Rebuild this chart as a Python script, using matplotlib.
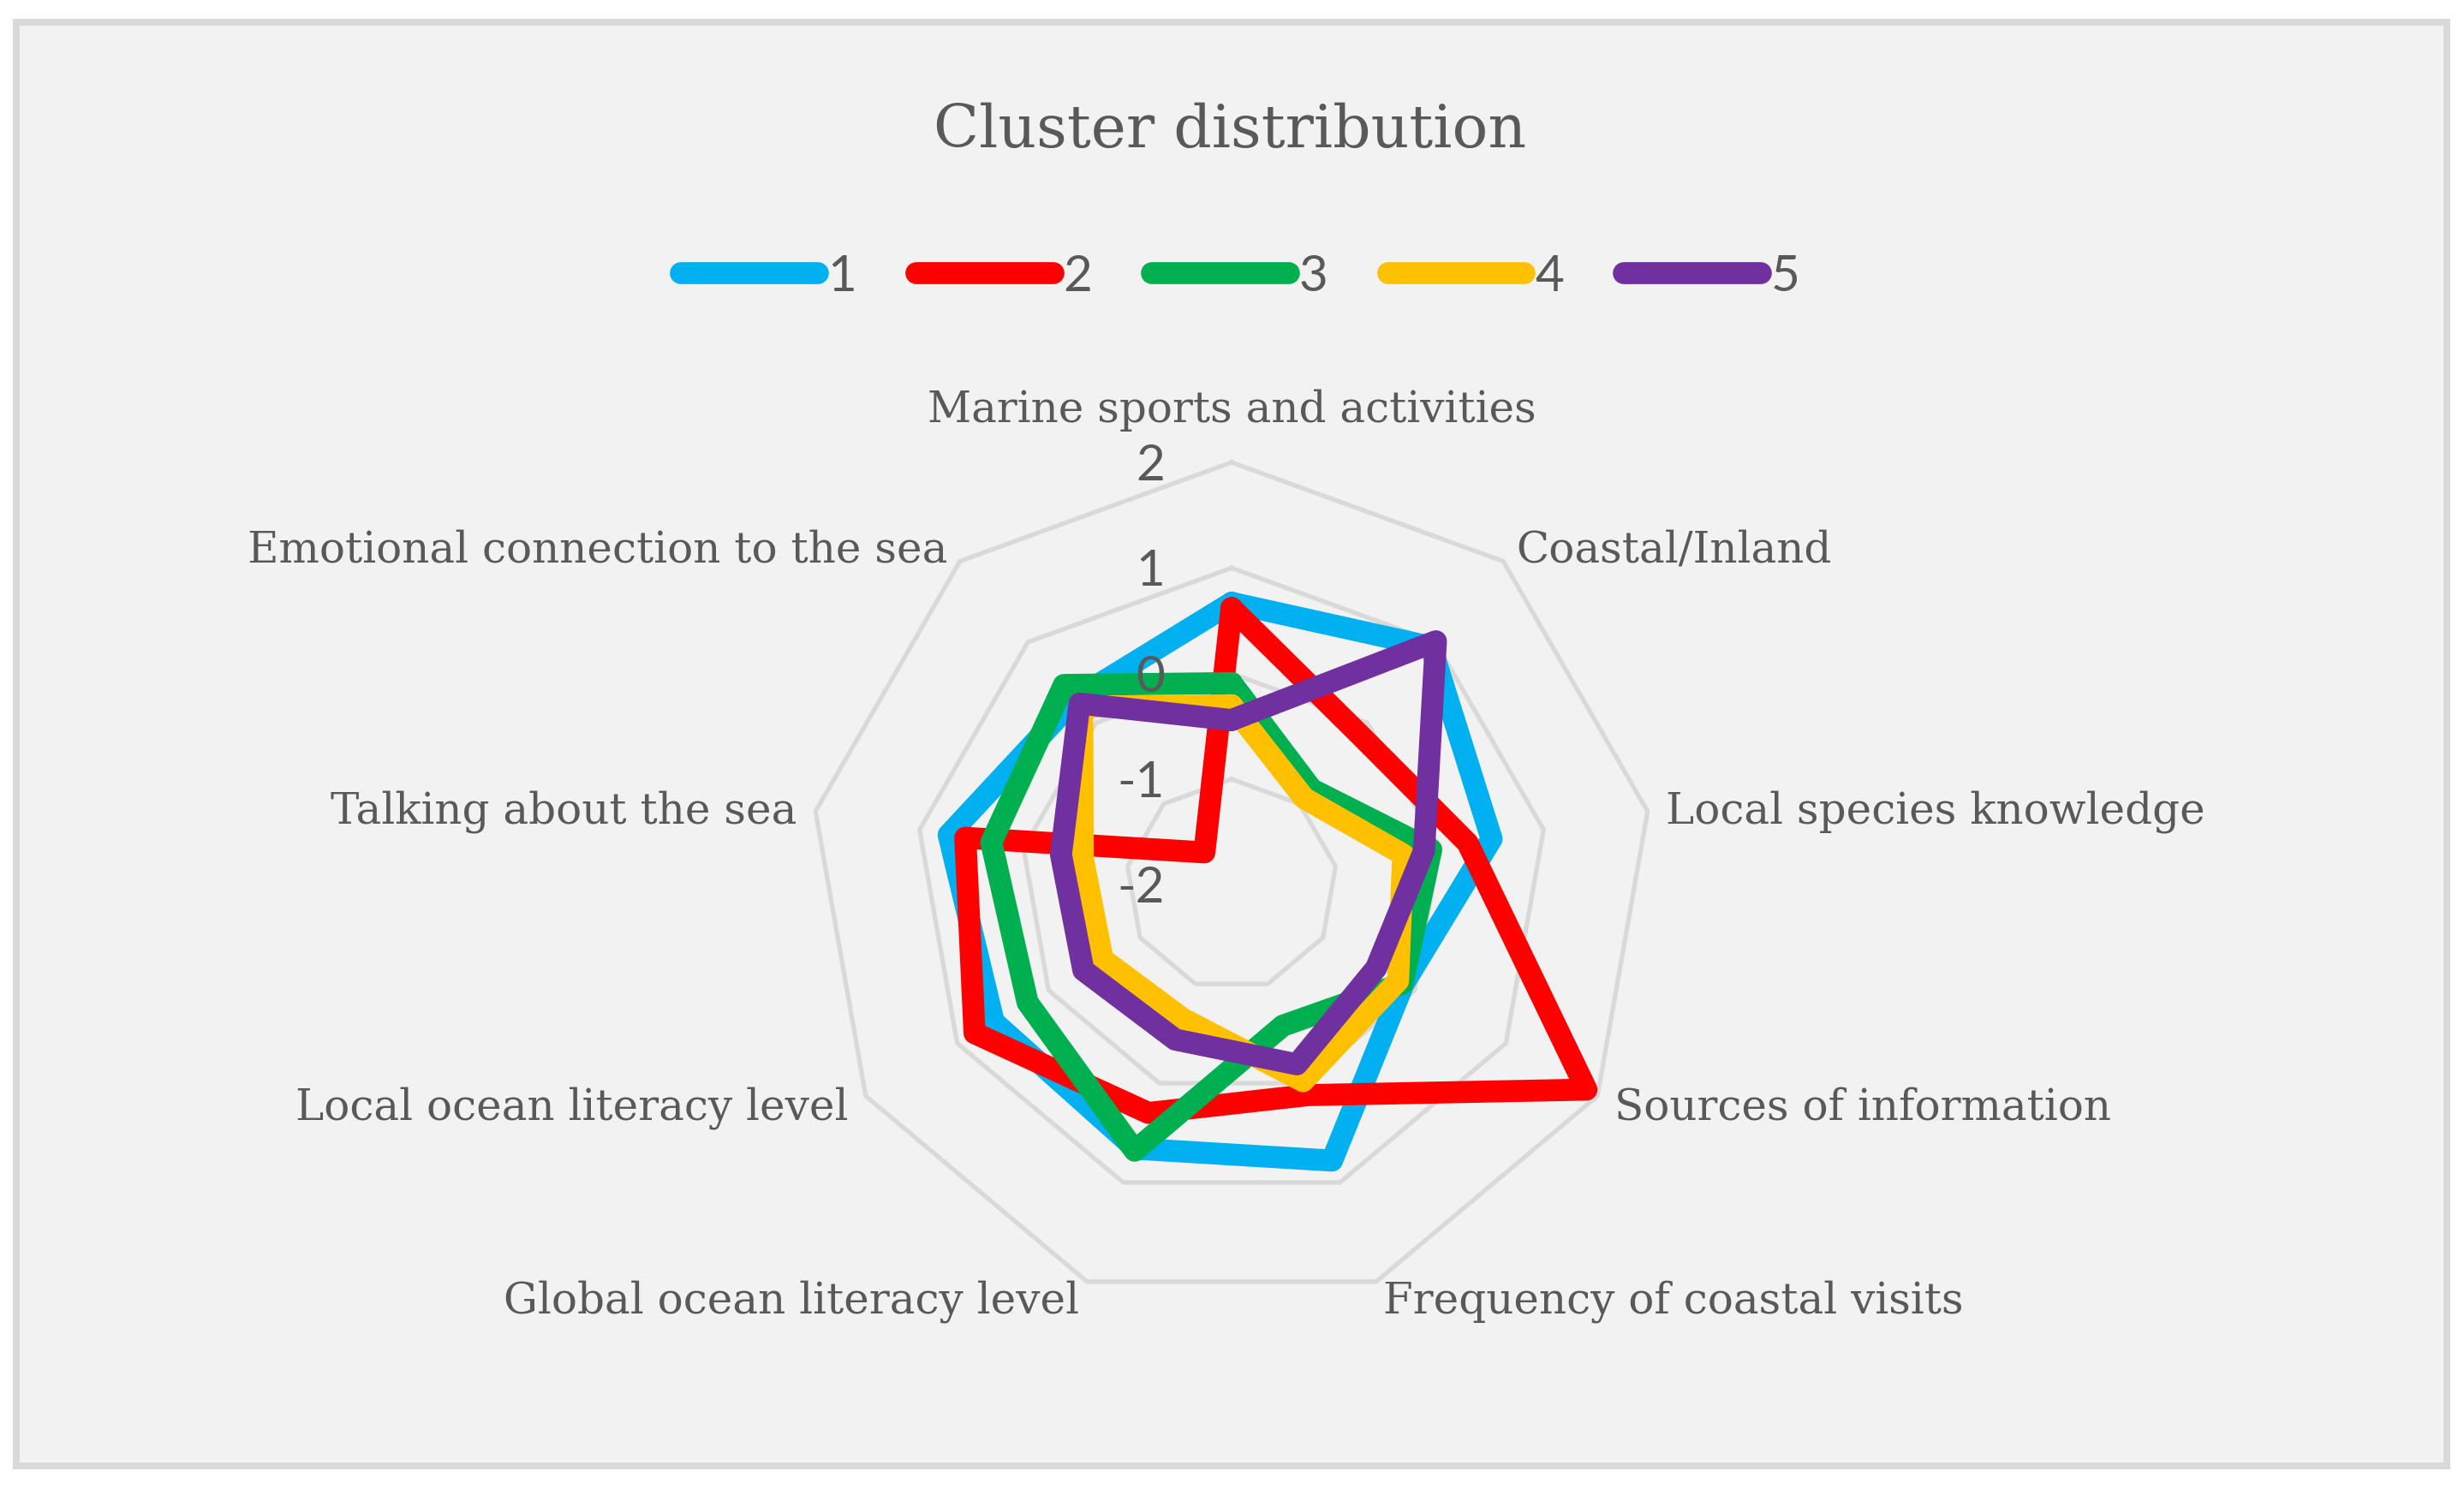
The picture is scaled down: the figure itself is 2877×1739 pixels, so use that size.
import numpy as np
import matplotlib
matplotlib.use('Agg')
import matplotlib.pyplot as plt
from matplotlib.patches import Rectangle

categories = ['Marine sports and activities', 'Coastal/Inland', 'Local species knowledge',
              'Sources of information', 'Frequency of coastal visits', 'Global ocean literacy level',
              'Local ocean literacy level', 'Talking about the sea', 'Emotional connection to the sea']
series_names = ['1', '2', '3', '4', '5']
cluster1 = [0.67, 0.94, 0.50, -0.12, 0.78, 0.66, 0.60, 0.72, 0.30]
cluster2 = [0.62, -0.13, 0.27, 1.88, 0.12, 0.30, 0.81, 0.56, -1.60]
cluster3 = [-0.09, -0.82, -0.08, -0.13, -0.58, 0.68, 0.23, 0.31, 0.47]
cluster4 = [-0.30, -0.93, -0.35, -0.18, -0.02, -0.65, -0.59, -0.57, 0.20]
cluster5 = [-0.44, 1.01, -0.15, -0.42, -0.19, -0.44, -0.38, -0.36, 0.24]
ticks = [-2, -1, 0, 1, 2]

colors = ['#00B0F0', '#FF0000', '#00B050', '#FFC000', '#7030A0']
text_col = '#595959'
serif = 'DejaVu Serif'
sans = 'Lato'

W, H = 2877, 1739
fig = plt.figure(figsize=(W / 100, H / 100), dpi=100)
fig.patch.set_facecolor('white')

# chart area frame
fig.add_artist(Rectangle((19 / W, 1 - 1712 / H), (2857 - 19) / W, (1712 - 26) / H,
                         transform=fig.transFigure, facecolor='#F2F2F2',
                         edgecolor='#D9D9D9', linewidth=8 * 0.72, zorder=0))

cx, cy, R = 1438, 1033.3, 493.3
ax = fig.add_axes([(cx - R) / W, (H - cy - R) / H, 2 * R / W, 2 * R / H], projection='polar')
ax.set_theta_zero_location('N')
ax.set_theta_direction(-1)
ax.set_ylim(ticks[0], ticks[-1])
ax.set_facecolor('none')
ax.grid(False)
ax.spines['polar'].set_visible(False)
ax.set_xticks([])
ax.set_yticks([])

n = len(categories)
angles = np.arange(n) * 2 * np.pi / n
closed = np.append(angles, angles[0])

# polygon gridlines
for v in ticks[1:]:
    ax.plot(closed, [v] * (n + 1), color='#D9D9D9', lw=3.8, zorder=1, clip_on=False)

for vals, col, name in zip([cluster1, cluster2, cluster3, cluster4, cluster5], colors, series_names):
    ax.plot(closed, vals + vals[:1], color=col, lw=18.5, solid_joinstyle='round',
            solid_capstyle='round', label=name, zorder=3, clip_on=False)

# category labels
label_pos = [(0, 47, 'center'), (15, -1, 'left'), (21, -14, 'left'), (20, -28, 'left'),
             (8, -37, 'left'), (-9, -37, 'right'), (-20, -28, 'right'), (-22, -14, 'right'),
             (-15, -1, 'right')]
for ang, cat, (dx, dy, ha) in zip(angles, categories, label_pos):
    ax.annotate(cat, xy=(ang, ticks[-1]), xytext=(dx, dy), textcoords='offset pixels',
                ha=ha, va='baseline', fontsize=36, family=serif, color=text_col,
                annotation_clip=False)

# ring value labels
for v in ticks:
    ax.annotate(str(v), xy=(0, v), xytext=(-78, -21), textcoords='offset pixels',
                ha='right', va='baseline', fontsize=42, family=sans,
                color=text_col, annotation_clip=False, zorder=4)

fig.text(1436 / W, 1 - 172 / H, 'Cluster distribution', ha='center', va='baseline',
         fontsize=50, family=serif, color=text_col)

fig.legend(loc='center', bbox_to_anchor=(1448 / W, 1 - 323 / H), ncol=5, frameon=False,
           prop={'family': sans, 'size': 42}, labelcolor=text_col,
           handlelength=2.74, handletextpad=0.2, columnspacing=1.2)

fig.savefig('out.png', dpi=100, facecolor='white')
